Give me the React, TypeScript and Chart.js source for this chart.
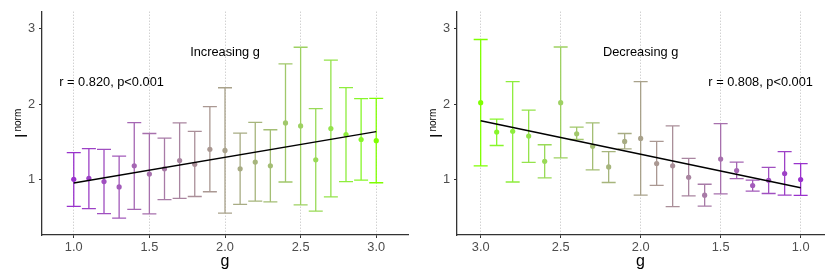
import React, { useEffect, useRef } from 'react';
import { Chart, registerables } from 'chart.js';

Chart.register(...registerables);

// ---------- data ----------
const gLevels = [1.0, 1.1, 1.2, 1.3, 1.4, 1.5, 1.6, 1.7, 1.8, 1.9, 2.0, 2.1, 2.2, 2.3, 2.4, 2.5, 2.6, 2.7, 2.8, 2.9, 3.0];
const xTickValues = [1.0, 1.5, 2.0, 2.5, 3.0];
const yTickValues = [1, 2, 3];

const meanIncreasing = [1.0, 1.015, 0.97, 0.9, 1.18, 1.07, 1.14, 1.25, 1.2, 1.4, 1.385, 1.14, 1.23, 1.18, 1.75, 1.71, 1.26, 1.675, 1.595, 1.53, 1.515];
const lowIncreasing = [0.64, 0.61, 0.545, 0.485, 0.6, 0.54, 0.73, 0.748, 0.772, 0.835, 0.55, 0.668, 0.71, 0.7, 0.965, 0.66, 0.577, 0.768, 0.97, 0.99, 0.955];
const highIncreasing = [1.355, 1.41, 1.4, 1.31, 1.755, 1.61, 1.548, 1.75, 1.638, 1.967, 2.218, 1.616, 1.758, 1.66, 2.535, 2.757, 1.94, 2.585, 2.22, 2.075, 2.078];

const meanDecreasing = [0.998, 1.078, 0.988, 0.918, 1.118, 1.27, 0.79, 1.028, 1.18, 1.21, 1.545, 1.505, 1.165, 1.44, 1.605, 2.02, 1.24, 1.575, 1.64, 1.63, 2.02];
const lowDecreasing = [0.787, 0.79, 0.812, 0.844, 1.01, 0.807, 0.645, 0.78, 0.638, 0.92, 0.79, 1.405, 0.958, 1.125, 1.53, 1.285, 1.02, 1.225, 0.965, 1.45, 1.18];
const highDecreasing = [1.208, 1.37, 1.16, 0.99, 1.23, 1.74, 0.935, 1.278, 1.71, 1.505, 2.3, 1.61, 1.37, 1.75, 1.695, 2.76, 1.46, 1.92, 2.3, 1.8, 2.86];

const fitIncreasingX = [1.0, 3.0];
const fitIncreasingY = [0.952, 1.635];
const fitDecreasingX = [3.0, 1.0];
const fitDecreasingY = [1.78, 0.888];

const headingIncreasing = 'Increasing g';
const headingDecreasing = 'Decreasing g';
const statIncreasing = 'r = 0.820, p<0.001';
const statDecreasing = 'r = 0.808, p<0.001';
const headingPos = [2.0, 2.69];
const statPos = [1.25, 2.29];

const xLabel = 'g';
const yLabelMain = 'I';
const yLabelSub = 'norm';

// ---------- style ----------
const FONT = '"Liberation Sans", Arial, Helvetica, sans-serif';
const LOW_COLOR = '#9932CC';
const HIGH_COLOR = '#7FFF00';

function hexToRgb(h: string) {
  const n = parseInt(h.slice(1), 16);
  return [(n >> 16) & 255, (n >> 8) & 255, n & 255];
}
const Xn = 0.95047, Yn = 1.0, Zn = 1.08883;
function toLin(c: number) { c /= 255; return c <= 0.04045 ? c / 12.92 : Math.pow((c + 0.055) / 1.055, 2.4); }
function fromLin(c: number) { const v = c <= 0.0031308 ? 12.92 * c : 1.055 * Math.pow(c, 1 / 2.4) - 0.055; return Math.max(0, Math.min(255, Math.round(v * 255))); }
function rgbToLab(rgb: number[]) {
  const [R, G, B] = rgb.map(toLin);
  const X = 0.4124 * R + 0.3576 * G + 0.1805 * B;
  const Y = 0.2126 * R + 0.7152 * G + 0.0722 * B;
  const Z = 0.0193 * R + 0.1192 * G + 0.9505 * B;
  const f = (t: number) => (t > 0.008856 ? Math.cbrt(t) : 7.787 * t + 16 / 116);
  const fx = f(X / Xn), fy = f(Y / Yn), fz = f(Z / Zn);
  return [116 * fy - 16, 500 * (fx - fy), 200 * (fy - fz)];
}
function labToRgb(lab: number[]) {
  const [L, a, b] = lab;
  const fy = (L + 16) / 116, fx = fy + a / 500, fz = fy - b / 200;
  const fi = (t: number) => (t > 0.206893 ? t * t * t : (t - 16 / 116) / 7.787);
  const X = Xn * fi(fx), Y = Yn * fi(fy), Z = Zn * fi(fz);
  const R = 3.2406 * X - 1.5372 * Y - 0.4986 * Z;
  const G = -0.9689 * X + 1.8758 * Y + 0.0415 * Z;
  const B = 0.0557 * X - 0.204 * Y + 1.057 * Z;
  return `rgb(${fromLin(R)},${fromLin(G)},${fromLin(B)})`;
}
const labLow = rgbToLab(hexToRgb(LOW_COLOR));
const labHigh = rgbToLab(hexToRgb(HIGH_COLOR));
function colorFor(g: number) {
  const t = (g - 1) / 2;
  return labToRgb(labLow.map((v, i) => v + (labHigh[i] - v) * t));
}

type PanelProps = {
  mean: number[]; low: number[]; high: number[];
  fitX: number[]; fitY: number[];
  heading: string; stat: string;
  reverse: boolean; xMin: number; xMax: number; padRight: number;
  left: number;
};

function Panel(p: PanelProps) {
  const ref = useRef<HTMLCanvasElement>(null);
  useEffect(() => {
    const canvas = ref.current!;
    const colors = gLevels.map(colorFor);

    const errorBars = {
      id: 'errorBars',
      beforeDatasetsDraw(chart: any) {
        const { ctx, scales } = chart;
        const xs = scales.x, ys = scales.y;
        ctx.save();
        ctx.lineWidth = 1.3;
        gLevels.forEach((g, i) => {
          const x = xs.getPixelForValue(g);
          const y1 = ys.getPixelForValue(p.low[i]);
          const y2 = ys.getPixelForValue(p.high[i]);
          ctx.strokeStyle = colors[i];
          ctx.beginPath();
          ctx.moveTo(x, y1); ctx.lineTo(x, y2);
          ctx.moveTo(x - 7, y1); ctx.lineTo(x + 7, y1);
          ctx.moveTo(x - 7, y2); ctx.lineTo(x + 7, y2);
          ctx.stroke();
        });
        ctx.restore();
      },
    };

    const texts = {
      id: 'texts',
      afterDraw(chart: any) {
        const { ctx, scales, chartArea } = chart;
        const xs = scales.x, ys = scales.y;
        ctx.save();
        ctx.fillStyle = '#000';
        ctx.font = `12.8px ${FONT}`;
        ctx.textAlign = 'center';
        ctx.textBaseline = 'middle';
        ctx.fillText(p.heading, xs.getPixelForValue(headingPos[0]), ys.getPixelForValue(headingPos[1]));
        ctx.fillText(p.stat, xs.getPixelForValue(statPos[0]), ys.getPixelForValue(statPos[1]));

        // x title
        ctx.font = `16px ${FONT}`;
        ctx.textBaseline = 'alphabetic';
        ctx.fillText(xLabel, (chartArea.left + chartArea.right) / 2, 266);

        // y title with subscript
        const cy = (chartArea.top + chartArea.bottom) / 2;
        ctx.translate(26.7, cy);
        ctx.rotate(-Math.PI / 2);
        ctx.textAlign = 'left';
        ctx.font = `16px ${FONT}`;
        const wI = ctx.measureText(yLabelMain).width;
        ctx.font = `10px ${FONT}`;
        const wN = ctx.measureText(yLabelSub).width;
        const total = wI + 2 + wN;
        ctx.font = `16px ${FONT}`;
        ctx.fillText(yLabelMain, -total / 2, 0);
        ctx.font = `10px ${FONT}`;
        ctx.fillText(yLabelSub, -total / 2 + wI + 2, -6);
        ctx.restore();
      },
    };

    const chart = new Chart(canvas, {
      type: 'scatter',
      data: {
        datasets: [
          {
            type: 'line',
            data: p.fitX.map((x, i) => ({ x, y: p.fitY[i] })),
            borderColor: '#000',
            borderWidth: 1.4,
            pointRadius: 0,
            order: 0,
          } as any,
          {
            type: 'scatter',
            data: gLevels.map((x, i) => ({ x, y: p.mean[i] })),
            pointRadius: 2.6,
            pointBackgroundColor: colors,
            pointBorderWidth: 0,
            pointBorderColor: colors,
            order: 1,
          } as any,
        ],
      },
      options: {
        animation: false,
        responsive: false,
        layout: { padding: { top: 6, right: p.padRight, left: 0, bottom: 0 } },
        plugins: { legend: { display: false }, tooltip: { enabled: false } },
        scales: {
          x: {
            type: 'linear',
            min: p.xMin,
            max: p.xMax,
            reverse: p.reverse,
            afterBuildTicks: (s: any) => { s.ticks = xTickValues.map((v) => ({ value: v })); },
            afterFit: (s: any) => { s.height = 45; },
            ticks: {
              callback: (v: any) => Number(v).toFixed(1),
              color: '#4D4D4D',
              font: { size: 12.8, family: FONT },
              padding: 2,
              maxRotation: 0,
              autoSkip: false,
            },
            grid: {
              display: true,
              drawOnChartArea: true,
              color: '#BDBDBD',
              lineWidth: 1,
              drawTicks: true,
              tickLength: 3,
              tickColor: '#333',
              tickWidth: 1,
              tickBorderDash: [],
            },
            border: { display: true, color: '#333', width: 1.3, dash: [1, 2] },
          },
          y: {
            type: 'linear',
            min: 0.26,
            max: 3.23,
            afterBuildTicks: (s: any) => { s.ticks = yTickValues.map((v) => ({ value: v })); },
            afterFit: (s: any) => { s.width = 42; },
            ticks: {
              color: '#4D4D4D',
              font: { size: 12.8, family: FONT },
              padding: 4,
            },
            grid: {
              display: true,
              drawOnChartArea: false,
              drawTicks: true,
              tickLength: 3,
              tickColor: '#333',
              tickWidth: 1,
            },
            border: { display: true, color: '#333', width: 1.3 },
          },
        },
      } as any,
      plugins: [errorBars, texts],
    });
    return () => chart.destroy();
  }, []);
  return (
    <canvas
      ref={ref}
      width={415}
      height={280}
      style={{ position: 'absolute', left: p.left, top: 0, width: 415, height: 280 }}
    />
  );
}

export default function App() {
  return (
    <div style={{ position: 'absolute', left: 0, top: 0, width: 830, height: 280, background: '#fff' }}>
      <Panel
        mean={meanIncreasing} low={lowIncreasing} high={highIncreasing}
        fitX={fitIncreasingX} fitY={fitIncreasingY}
        heading={headingIncreasing} stat={statIncreasing}
        reverse={false} xMin={0.79} xMax={3.21} padRight={7} left={0}
      />
      <Panel
        mean={meanDecreasing} low={lowDecreasing} high={highDecreasing}
        fitX={fitDecreasingX} fitY={fitDecreasingY}
        heading={headingDecreasing} stat={statDecreasing}
        reverse={true} xMin={0.854} xMax={3.148} padRight={6} left={415}
      />
    </div>
  );
}
